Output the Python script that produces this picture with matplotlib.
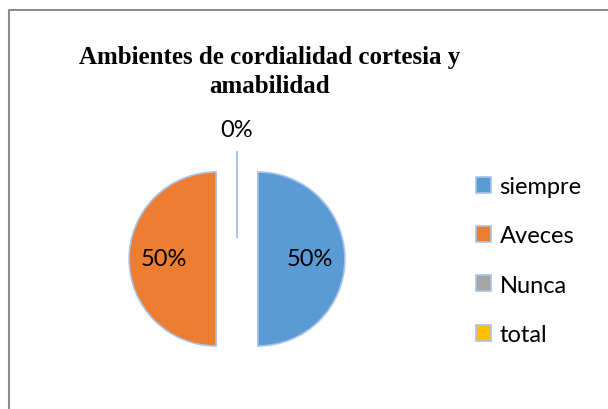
import matplotlib.pyplot as plt
from matplotlib.lines import Line2D

categorias = ['siempre', 'Aveces', 'Nunca', 'total']
porcentajes = [50, 50, 0, 0]
colores = ['#5B9BD5', '#ED7D31', '#A5A5A5', '#FFC000']

fig = plt.figure(figsize=(6.08, 4.10), dpi=100)

# marco gris del grafico
fig.add_artist(Line2D([9 / 608, 9 / 608, 1], [0, 1 - 11 / 410, 1 - 11 / 410],
                      color='#8c8c8c', lw=1.5, transform=fig.transFigure))

fig.text(270 / 608, 1 - 46 / 410, 'Ambientes de cordialidad cortesia y\namabilidad',
         ha='center', va='top', fontsize=18, fontweight='bold',
         family='Liberation Serif', linespacing=1.35)

# radio = 87 px, limites +-1.25
lado = 2.5 * 87
ax = fig.add_axes([(237 - lado / 2) / 608, (410 - 260 - lado / 2) / 410, lado / 608, lado / 410])
wedges, textos, autotextos = ax.pie(
    porcentajes, colors=colores, startangle=90, counterclock=False,
    explode=[0.24] * 4, autopct='%1.0f%%', pctdistance=0.6,
    wedgeprops=dict(edgecolor='#A9C4EB', linewidth=1.2),
    textprops=dict(fontsize=17, family='Lato', color='black'))
ax.set_xlim(-1.25, 1.25)
ax.set_ylim(-1.25, 1.25)
ax.set_aspect('auto')

autotextos[2].set_position((0, 1.49))
autotextos[2].set_clip_on(False)
autotextos[3].set_text('')

leg = fig.legend(wedges, categorias, loc='upper left', bbox_to_anchor=(476 / 608, 1 - 177 / 410),
                 frameon=False, prop=dict(family='Lato', size=17),
                 handlelength=0.65, handleheight=0.65, handletextpad=0.35, labelspacing=1.2,
                 borderpad=0, borderaxespad=0)

fig.savefig('out.png', dpi=100)
